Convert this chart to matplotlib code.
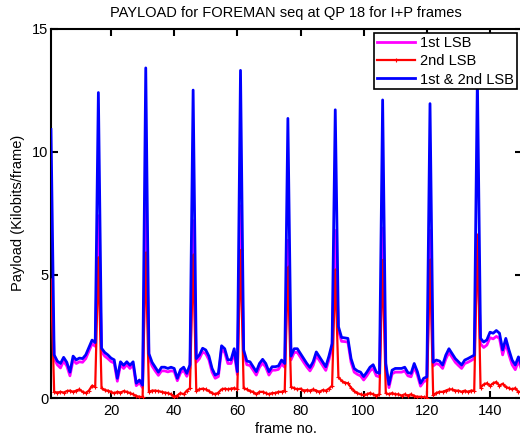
import matplotlib
matplotlib.use("Agg")
import matplotlib.pyplot as plt
import numpy as np

plt.rcParams['font.family'] = ['Liberation Sans', 'DejaVu Sans']

frames = list(range(1, 151))

lsb1 = [6.0,
        1.6, 1.35, 1.22, 1.5, 1.3, 0.9, 1.55, 1.4, 1.47, 1.45, 1.6, 1.9, 2.2, 2.1,
        7.4,
        1.88, 1.7, 1.6, 1.48, 1.42, 0.68, 1.35, 1.2, 1.35, 1.2, 1.35, 0.5, 0.62, 0.42,
        7.9,
        1.65, 1.3, 1.1, 0.92, 1.1, 1.1, 1.06, 1.1, 1.08, 0.7, 1.02, 1.12, 0.88, 1.2,
        7.2,
        1.45, 1.6, 1.87, 1.8, 1.55, 1.05, 0.8, 0.87, 1.97, 1.85, 1.4, 1.4, 1.85, 0.95,
        7.8,
        1.8, 1.35, 1.32, 1.13, 0.93, 1.25, 1.42, 1.25, 0.93, 1.13, 1.13, 1.16, 1.38, 1.25,
        6.4,
        1.55, 1.85, 1.85, 1.65, 1.45, 1.26, 1.1, 1.32, 1.72, 1.52, 1.32, 1.12, 1.55, 2.05,
        6.8,
        2.75, 2.3, 2.29, 2.27, 1.45, 1.05, 0.96, 0.9, 0.73, 0.9, 1.1, 1.2, 0.9, 0.86,
        6.9,
        1.25, 0.42, 0.98, 1.05, 1.05, 1.05, 1.1, 0.9, 0.86, 1.25, 0.93, 0.48, 0.66, 0.72,
        6.8,
        1.3, 1.4, 1.35, 1.2, 1.58, 1.85, 1.65, 1.45, 1.32, 1.2, 1.4, 1.45, 1.52, 1.6,
        6.5,
        2.2, 2.05, 2.15, 2.45, 2.4, 2.5, 2.42, 1.75, 2.22, 1.75, 1.35, 1.15, 1.5, 1.15]

lsb2 = [4.8,
        0.25, 0.22, 0.25, 0.22, 0.28, 0.3, 0.25, 0.3, 0.35, 0.25, 0.2, 0.3, 0.5, 0.45,
        5.7,
        0.4, 0.32, 0.3, 0.25, 0.19, 0.25, 0.22, 0.28, 0.25, 0.2, 0.15, 0.08, 0.05, 0.03,
        5.9,
        0.25, 0.3, 0.3, 0.28, 0.25, 0.22, 0.2, 0.15, 0.05, 0.1, 0.2, 0.15, 0.3, 0.4,
        5.8,
        0.3, 0.35, 0.38, 0.35, 0.28, 0.2, 0.15, 0.22, 0.35, 0.38, 0.35, 0.38, 0.4, 0.35,
        6.0,
        0.4, 0.35, 0.28, 0.25, 0.15, 0.25, 0.25, 0.2, 0.15, 0.2, 0.2, 0.25, 0.25, 0.3,
        5.3,
        0.45, 0.4, 0.35, 0.38, 0.3, 0.32, 0.3, 0.35, 0.3, 0.25, 0.32, 0.3, 0.38, 0.5,
        5.2,
        0.85, 0.7, 0.62, 0.6, 0.42, 0.28, 0.2, 0.15, 0.12, 0.15, 0.2, 0.15, 0.1, 0.15,
        5.6,
        0.2, 0.15, 0.2, 0.15, 0.15, 0.1, 0.15, 0.1, 0.15, 0.08, 0.05, 0.05, 0.03, 0.02,
        5.6,
        0.12, 0.2, 0.25, 0.25, 0.3, 0.35, 0.35, 0.3, 0.3, 0.25, 0.3, 0.25, 0.3, 0.3,
        6.6,
        0.42, 0.55, 0.6, 0.5, 0.6, 0.65, 0.5, 0.58, 0.45, 0.4, 0.35, 0.4, 0.25, 0.25]

lsb12 = [10.9,
         1.75, 1.5, 1.4, 1.65, 1.45, 1.05, 1.7, 1.55, 1.62, 1.6, 1.75, 2.05, 2.35, 2.25,
         12.4,
         2.02, 1.85, 1.75, 1.62, 1.55, 0.8, 1.47, 1.33, 1.47, 1.33, 1.47, 0.6, 0.73, 0.52,
         13.4,
         1.8, 1.45, 1.25, 1.05, 1.25, 1.25, 1.2, 1.25, 1.2, 0.8, 1.15, 1.25, 1.0, 1.35,
         12.5,
         1.6, 1.75, 2.02, 1.95, 1.7, 1.2, 0.93, 1.0, 2.12, 2.0, 1.55, 1.55, 2.0, 1.07,
         13.3,
         1.95, 1.5, 1.47, 1.27, 1.07, 1.4, 1.57, 1.4, 1.07, 1.27, 1.27, 1.3, 1.54, 1.4,
         11.35,
         1.7, 2.0, 2.0, 1.8, 1.6, 1.4, 1.24, 1.47, 1.87, 1.67, 1.47, 1.27, 1.7, 2.21,
         11.7,
         2.9, 2.46, 2.44, 2.42, 1.6, 1.2, 1.1, 1.05, 0.87, 1.05, 1.25, 1.35, 1.05, 1.0,
         12.1,
         1.4, 0.55, 1.13, 1.2, 1.2, 1.2, 1.25, 1.03, 1.0, 1.4, 1.07, 0.6, 0.8, 0.86,
         11.95,
         1.45, 1.54, 1.5, 1.34, 1.74, 2.0, 1.8, 1.6, 1.47, 1.34, 1.54, 1.6, 1.67, 1.74,
         13.0,
         2.42, 2.27, 2.36, 2.67, 2.63, 2.74, 2.63, 1.95, 2.42, 1.95, 1.54, 1.34, 1.67, 1.3]

series_labels = ['1st LSB', '2nd LSB', '1st & 2nd LSB']
xticks = [20, 40, 60, 80, 100, 120, 140]
yticks = [0, 5, 10, 15]

fig = plt.figure(figsize=(5.2, 4.38), dpi=100)
ax = fig.add_axes([51 / 520, 40 / 438, 470.6 / 520, 369.5 / 438])

ax.plot(frames, lsb1, color='#ff00ff', lw=2.0, label=series_labels[0], zorder=2)
ax.plot(frames, lsb2, color='#ff0000', lw=1.6, marker='+', ms=2.5, mew=0.8,
        label=series_labels[1], zorder=3)
ax.plot(frames, lsb12, color='#0000ff', lw=2.0, label=series_labels[2], zorder=4)

ax.set_xlim(1, 150)
ax.set_ylim(0, 15)
ax.set_xticks(xticks)
ax.set_yticks(yticks)
ax.tick_params(direction='in', length=5, width=1.5, top=True, right=True,
               labelsize=10.5, colors='black')
ax.tick_params(axis='y', pad=2)
ax.tick_params(axis='x', pad=4)
for s in ax.spines.values():
    s.set_linewidth(1.5)

ax.set_title('PAYLOAD for FOREMAN seq at QP 18 for I+P frames', fontsize=10.5, pad=8)
ax.set_xlabel('frame no.', fontsize=10.5, labelpad=3)
ax.set_ylabel('Payload (Kilobits/frame)', fontsize=10.5, labelpad=5)

leg = ax.legend(loc='upper right', fontsize=10.5, fancybox=False, framealpha=1,
                edgecolor='black', handlelength=2.6, borderaxespad=0.3,
                borderpad=0.2, labelspacing=0.3, handletextpad=0.4)
leg.get_frame().set_linewidth(1.2)
leg.set_zorder(10)

fig.savefig('out.png', dpi=100)
